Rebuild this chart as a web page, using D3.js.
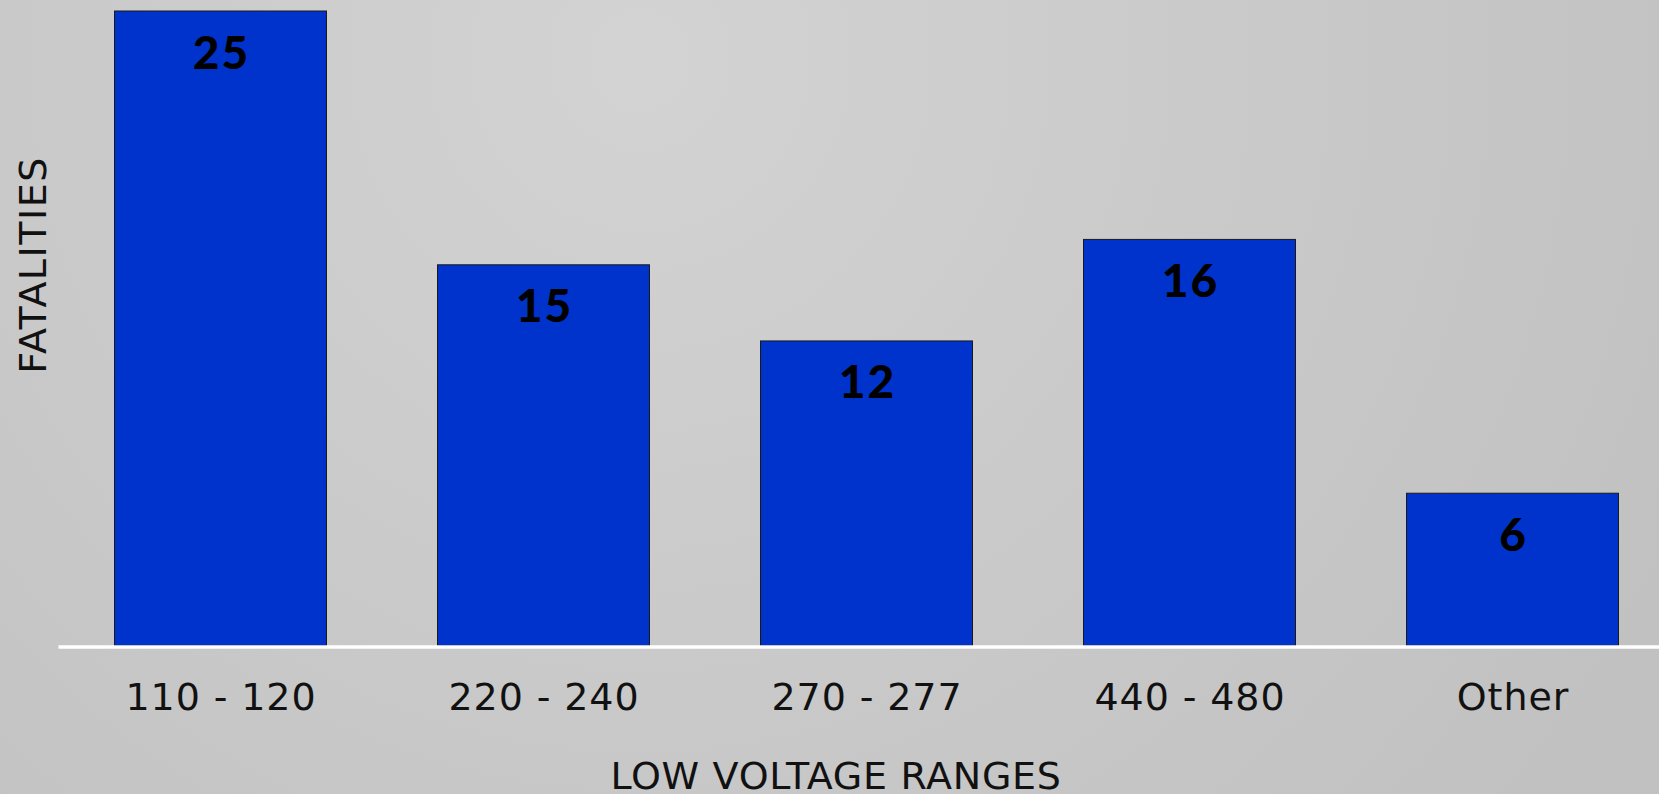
<!DOCTYPE html>
<html><head><meta charset="utf-8">
<script src="https://cdn.jsdelivr.net/npm/d3@7"></script>
<style>
html,body{margin:0;padding:0;overflow:hidden;}
svg{display:block;}
</style></head>
<body>
<script>
const categories = ["110 - 120", "220 - 240", "270 - 277", "440 - 480", "Other"];
const fatalities = [25, 15, 12, 16, 6];
const xTitle = "LOW VOLTAGE RANGES";
const yTitle = "FATALITIES";

const W = 1659, H = 794;
const svg = d3.select("body").append("svg").attr("width", W).attr("height", H);

const defs = svg.append("defs");
const grad = defs.append("radialGradient").attr("id", "bg")
  .attr("gradientUnits", "userSpaceOnUse")
  .attr("cx", 640).attr("cy", 60).attr("r", 1150);
grad.append("stop").attr("offset", "0%").attr("stop-color", "#d3d3d3");
grad.append("stop").attr("offset", "100%").attr("stop-color", "#c1c1c1");
svg.append("rect").attr("width", W).attr("height", H).attr("fill", "url(#bg)");

const baseY = 645;
const x = d3.scaleBand().domain(categories).range([59, 1674])
  .paddingInner(0.3406).paddingOuter(0.1703);
const y = d3.scaleLinear().domain([0, 25]).range([baseY, 10.5]);

const g = svg.append("g");
g.selectAll("rect.bar").data(fatalities).join("rect")
  .attr("class", "bar")
  .attr("x", (d, i) => x(categories[i]) + 0.5)
  .attr("y", d => y(d) + 0.5)
  .attr("width", x.bandwidth() - 1)
  .attr("height", d => baseY - y(d))
  .attr("fill", "#0033cc")
  .attr("stroke", "#1a1a1a")
  .attr("stroke-width", 1);

g.selectAll("text.val").data(fatalities).join("text")
  .attr("class", "val")
  .attr("x", (d, i) => x(categories[i]) + x.bandwidth() / 2 + 1)
  .attr("y", d => y(d) + 58)
  .attr("text-anchor", "middle")
  .attr("font-family", "Lato, 'DejaVu Sans', sans-serif")
  .attr("font-weight", 900)
  .attr("font-size", 46)
  .attr("letter-spacing", 2)
  .attr("fill", "#000")
  .text(d => d);

// baseline (white axis line)
const xAxis = d3.axisBottom(x).tickSize(0).tickPadding(0);
const ax = svg.append("g").attr("transform", `translate(0,${baseY + 2})`).call(xAxis);
ax.select(".domain").remove();
ax.append("line").attr("x1", 58.5).attr("x2", W).attr("y1", 0).attr("y2", 0)
  .attr("stroke", "#ffffff").attr("stroke-width", 3.5);
ax.selectAll(".tick text")
  .attr("y", 63)
  .attr("dy", 0)
  .attr("dx", 0.5)
  .attr("font-family", "'DejaVu Sans', Verdana, sans-serif")
  .attr("font-size", 38)
  .attr("letter-spacing", 0.9)
  .attr("fill", "#111");

svg.append("text")
  .attr("x", 836).attr("y", 789)
  .attr("text-anchor", "middle")
  .attr("font-family", "'DejaVu Sans', Verdana, sans-serif")
  .attr("font-size", 38)
  .attr("letter-spacing", 0.7)
  .attr("fill", "#111")
  .text(xTitle);

svg.append("text")
  .attr("transform", "translate(46,265) rotate(-90)")
  .attr("text-anchor", "middle")
  .attr("font-family", "'DejaVu Sans', Verdana, sans-serif")
  .attr("font-size", 38)
  .attr("letter-spacing", 1.5)
  .attr("fill", "#111")
  .text(yTitle);
</script>
</body></html>
